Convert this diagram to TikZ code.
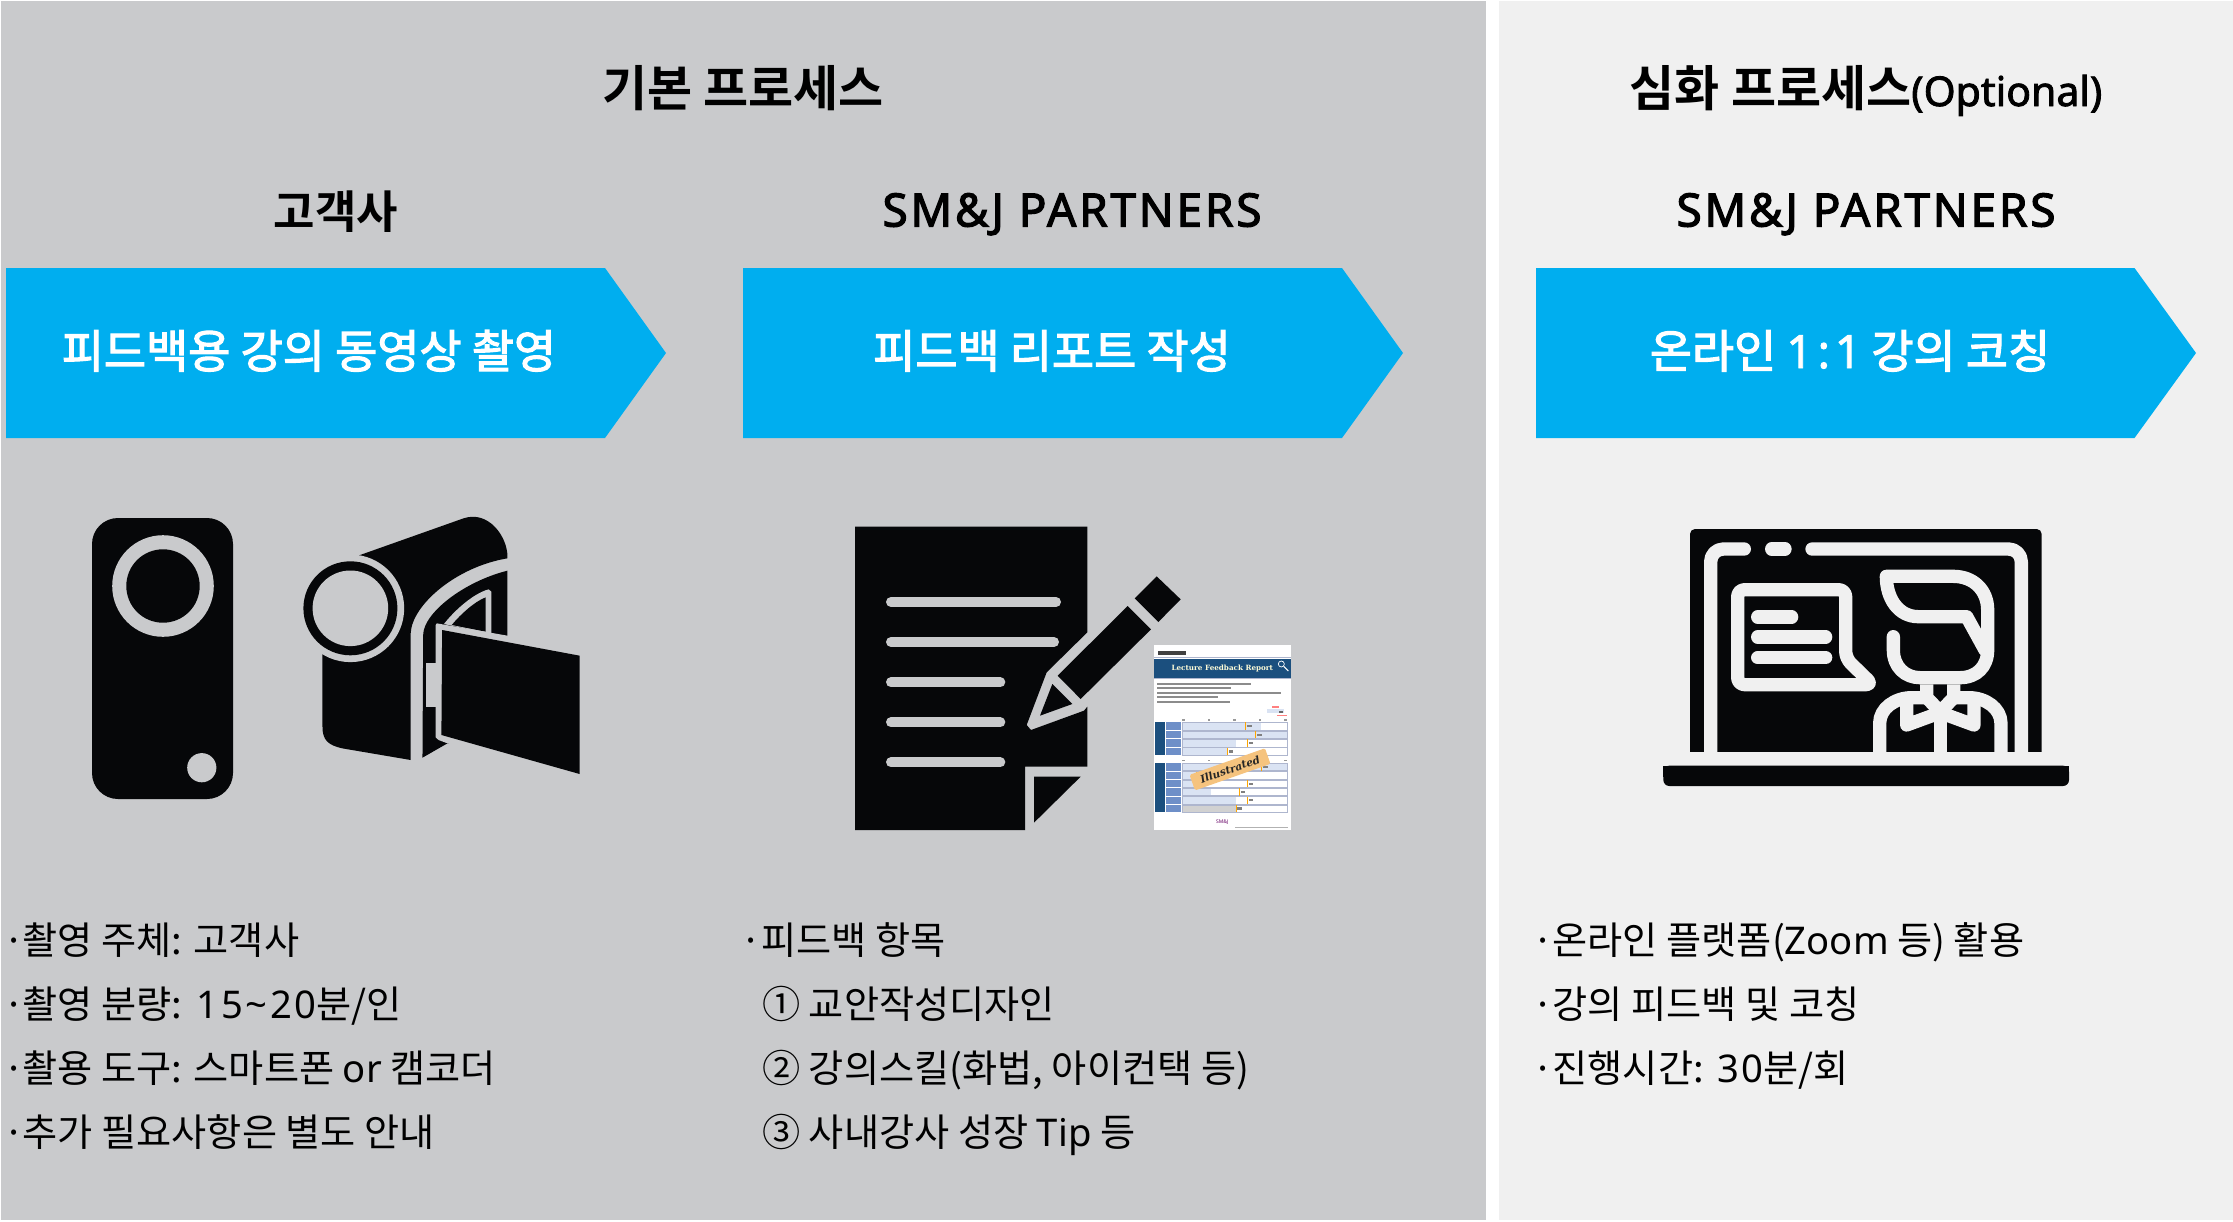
\documentclass[tikz,border=0pt]{standalone}
\usepackage{fontspec}
\setmainfont{Noto Sans CJK KR}
\newfontfamily\krmed[FakeBold=2.5]{Noto Sans CJK KR}
\newfontfamily\krbold{Noto Sans CJK KR Bold}
\newfontfamily\latf{Noto Sans}
\newfontfamily\latdg[LetterSpace=7]{Noto Sans}
\newfontfamily\latsb[FakeBold=2.5,LetterSpace=6]{Noto Sans}
\newfontfamily\latmd[FakeBold=2]{Noto Sans}
\newfontfamily\thumbserif{DejaVu Serif}
\newcommand{\fsz}[1]{\fontsize{#1}{#1}\selectfont}
\definecolor{panelA}{HTML}{C9CACC}
\definecolor{panelB}{HTML}{F0F0F0}
\definecolor{chevblue}{HTML}{00AEEF}
\definecolor{inkk}{HTML}{060709}
\definecolor{thumbnavy}{HTML}{1B4F7E}
\definecolor{thumbmid}{HTML}{6E8FC8}
\definecolor{thumblight}{HTML}{DAE3F3}
\definecolor{thumbedge}{HTML}{AEB6CE}
\definecolor{stampfill}{HTML}{F5C37E}
\tikzset{
  chev/.style={fill=chevblue,draw=none},
  ink/.style={fill=inkk,draw=none},
  headtxt/.style={anchor=base,inner sep=0pt,text=black,font=\krbold\fsz{49}},
  subtxt/.style={anchor=base,inner sep=0pt,text=black,font=\krbold\fsz{45}},
  subtxtlat/.style={anchor=base,inner sep=0pt,text=black,font=\latsb\fsz{46}},
  chevtxt/.style={anchor=base,inner sep=0pt,text=white,font=\krmed\fsz{45.8}},
  bodytxt/.style={anchor=base west,inner sep=0pt,text=black,font=\fsz{38.2}},
  wl/.style={draw=panelB,line width=13.3pt,line cap=round,line join=round,fill=none},
  gl/.style={draw=panelA,line width=10pt,line cap=round},
}
\begin{document}
\begin{tikzpicture}[x=1pt,y=-1pt]
\useasboundingbox (0,0) rectangle (2233,1221);
\fill[white] (0,0) rectangle (2233,1221);
\fill[panelA] (1,1) rectangle (1486,1220);
\fill[panelB] (1499,1) rectangle (2233,1220);
% chevrons
\fill[chev] (6,268) -- (605,268) -- (666,353) -- (605,438) -- (6,438) -- cycle;
\fill[chev] (743,268) -- (1342,268) -- (1403,353) -- (1342,438) -- (743,438) -- cycle;
\fill[chev] (1536,268) -- (2134.5,268) -- (2196,353) -- (2134.5,438) -- (1536,438) -- cycle;
% headings
\node[headtxt] (h1) at (743,106) {기본 프로세스};
\node[headtxt] (h2) at (1866,106) {심화 프로세스{\latmd\fsz{41}(Optional)}};
\node[subtxt] (s1) at (336,228) {고객사};
\node[subtxtlat] (s2) at (1072,226.5) {SM\&J PARTNERS};
\node[subtxtlat] (s3) at (1866,226.5) {SM\&J PARTNERS};
\node[chevtxt] (c1) at (309,368) {피드백용 강의 동영상 촬영};
\node[chevtxt] (c2) at (1052,368) {피드백 리포트 작성};
\node[chevtxt] (c3) at (1850,368) {온라인 {\latmd 1\kern5pt:\kern5pt1} 강의 코칭};
% body col 1
\node[bodytxt] (a1) at (3.5,954) {·\kern-2.5pt 촬영 주체: 고객사};
\node[bodytxt] (a2) at (3.5,1018) {·\kern-2.5pt 촬영 분량: \kern3pt{\latdg 15\char`\~20}분/인};
\node[bodytxt] (a3) at (3.5,1082) {·\kern-2.5pt 촬용 도구: 스마트폰 {\latf or} 캠코더};
\node[bodytxt] (a4) at (3.5,1146) {·\kern-2.5pt 추가 필요사항은 별도 안내};
% body col 2
\node[bodytxt] (b1) at (740,954) {·피드백 항목};
\node[bodytxt] (b2) at (762,1018) {① 교안작성디자인};
\node[bodytxt] (b3) at (762,1082) {② 강의스킬(화법, 아이컨택 등)};
\node[bodytxt] (b4) at (762,1146) {③ 사내강사 성장 {\latf Tip} 등};
% body col 3
\node[bodytxt] (d1) at (1532.5,954) {·\kern-1.5pt 온라인 플랫폼({\latf Zoom} 등) 활용};
\node[bodytxt] (d2) at (1532.5,1018) {·\kern-1.5pt 강의 피드백 및 코칭};
\node[bodytxt] (d3) at (1532.5,1082) {·\kern-1.5pt 진행시간: \kern2pt{\latdg 30}분/회};
% phone icon
\fill[ink,rounded corners=26pt] (92,518) rectangle (233,799);
\fill[panelA] (163,586) circle (50.8);
\fill[ink] (163,586) circle (36.7);
\fill[panelA] (201.8,767.7) circle (14.6);
% camcorder icon
\begin{scope}[shift={(60,490)},xscale=1/2.8,yscale=1/3]
\fill[ink] (835,197) -- (1130,85) .. controls (1200,60) and (1253,140) .. (1253,200) -- (1253,205) .. controls (1110,230) and (985,345) .. (982,430) -- (982,810) -- (790,775) .. controls (750,765) and (735,750) .. (735,710) -- (735,493) -- (813,355) -- cycle;
\fill[ink] (1253,242) .. controls (1130,275) and (1017,370) .. (1017,435) -- (1015,803) -- (1085,760) -- (1253,760) -- cycle;
\fill[panelA] (1075,402) .. controls (1110,355) and (1160,310) .. (1200,298) -- (1208,305) -- (1208,432) -- cycle;
\fill[ink] (1097,405) .. controls (1120,375) and (1160,335) .. (1192,322) -- (1192,425) -- cycle;
\fill[panelA] (1052,405) -- (1055,400) -- (1253,437) -- (1460,480) -- (1460,860) -- (1085,760) -- (1060,750) -- (1052,742) -- cycle;
\fill[panelA] (1025,518) rectangle (1053,652);
\fill[ink] (1070,420) -- (1455,497) -- (1455,852) -- (1068,735) -- cycle;
\end{scope}
\fill[panelA] (350.4,608.3) circle (53.8);
\fill[ink] (350.4,608.3) circle (47);
\fill[panelA] (350.4,608.3) circle (37.8);
% document icon
\begin{scope}[shift={(830,500)},scale=1/3]
\fill[ink] (75,80) -- (772,80) -- (772,397) -- (650,517) -- (590,675) -- (603,690) -- (762,632) -- (772,620) -- (772,800) -- (585,800) -- (585,990) -- (75,990) -- cycle;
\draw[gl] (183,306) -- (678,306);
\draw[gl] (183,426) -- (672,426);
\draw[gl] (183,547) -- (511,547);
\draw[gl] (183,667) -- (511,667);
\draw[gl] (183,787) -- (511,787);
\fill[ink] (612,830) -- (752,830) -- (612,968) -- cycle;
\fill[ink] (893,318) -- (963,388) -- (752,597) -- (683,527) -- cycle;
\fill[ink] (980,229) -- (1052,298) -- (985,366) -- (914,295) -- cycle;
\fill[ink] (667,552) -- (727,612) -- (630,647) -- cycle;
% report thumbnail
\fill[white] (972,436) rectangle (1382,990);
\fill[black!75] (983,454) rectangle (1068,464);
\fill[thumbedge] (972,471) rectangle (1382,474);
\fill[thumbnavy] (972,477) rectangle (1382,535);
\fill[thumbedge] (972,535) rectangle (1382,538);
\node[inner sep=0pt,text=yellow!15,font=\thumbserif\bfseries\fsz{7.2}] (rt) at (1177,506) {Lecture Feedback Report};
\draw[white,line width=0.7pt] (1354,492) circle (9);
\draw[white,line width=1pt] (1361,499) -- (1375,513);
\foreach \yy/\xe in {552/1262,565/1203,578/1352,592/1165,605/1200}
  \fill[black!45] (982,\yy-3) rectangle (\xe,\yy+3);
\fill[red!50] (1327,619) rectangle (1346,623);
\fill[thumblight] (1312,628) rectangle (1362,640);
\fill[black!60] (1348,632) rectangle (1360,638);
\fill[red!50] (1342,645) rectangle (1372,649);
\foreach \xx in {1060,1137,1213,1290,1366} {
  \fill[black!40] (\xx-4,658) rectangle (\xx+4,662);
  \fill[black!40] (\xx-4,780) rectangle (\xx+4,784);
}
\fill[thumbnavy] (975,666) rectangle (1004,765);
\fill[thumbnavy] (975,790) rectangle (1004,937);
\foreach \ya/\yb/\xf/\xm in {667/690/1293/1247,693/715/1373/1277,718/741/1218/1252,743/766/1192/1192,790/812/1373/1295,815/838/1100/1100,840/862/1100/1252,865/887/1143/1228,890/912/1218/1252} {
  \fill[thumbmid] (1008,\ya) rectangle (1054,\yb);
  \fill[thumblight] (1058,\ya) rectangle (\xf,\yb);
  \draw[thumbedge,line width=0.7pt] (1058,\ya) rectangle (1373,\yb);
  \draw[orange!70!yellow,line width=0.5pt] (\xm,\ya) -- (\xm,\yb);
  \fill[black!50] (\xm+4,\ya+8) rectangle (\xm+18,\yb-8);
}
\fill[thumbmid] (1008,915) rectangle (1054,937);
\fill[black!18] (1058,915) rectangle (1218,937);
\draw[thumbedge,line width=0.7pt] (1058,915) rectangle (1373,937);
\draw[orange!70!yellow,line width=0.5pt] (1218,915) -- (1218,937);
\fill[black!50] (1222,921) rectangle (1236,929);
\node[fill=stampfill,rounded corners=1.5pt,minimum width=80pt,minimum height=16.5pt,inner sep=0pt,rotate=19.4,text=black!85,font=\thumbserif\bfseries\itshape\fsz{10.5}] (stamp) at (1200,808) {Illustrated};
\node[inner sep=0pt,text=violet!80!black,font=\latf\bfseries\fsz{5}] (logo) at (1177,967) {SM\&J};
\fill[black!30] (1215,980) rectangle (1375,983);
\end{scope}
% laptop icon
\begin{scope}[shift={(1650,510)},scale=1/3]
\fill[ink,rounded corners=5pt] (120,57) -- (1175,57) -- (1175,900) -- (120,900) -- cycle;
\fill[panelB] (100,727) rectangle (1200,910);
\fill[ink,rounded corners=6pt] (40,767) -- (40,828) -- (1257,828) -- (1257,767) -- cycle;
\fill[ink] (40,767) rectangle (1257,800);
\begin{scope}
\clip (100,40) rectangle (1200,727);
\draw[wl] (182,760) -- (182,155) arc[start angle=180,end angle=270,radius=38] -- (283,117);
\draw[wl] (365,117) -- (405,117);
\draw[wl] (486,117) -- (1076,117) arc[start angle=270,end angle=360,radius=38] -- (1114,760);
\draw[wl,rounded corners=7pt] (587,445) -- (587,239) -- (263,239) -- (263,524) -- (668,524) -- cycle;
\draw[wl] (323,321) -- (425,321);
\draw[wl] (323,381) -- (527,381);
\draw[wl] (323,443) -- (527,443);
\draw[wl,line cap=round] (730,380) -- (730,420) .. controls (730,470) and (765,503) .. (810,503) -- (930,503) .. controls (980,503) and (1013,470) .. (1013,420) -- (1013,300) .. controls (1013,240) and (970,199) .. (910,199) -- (709,199) .. controls (709,265) and (745,320) .. (805,320) -- (950,320) -- (1005,420);
\draw[wl] (689,760) -- (689,640) .. controls (689,595) and (735,563) .. (785,563) -- (830,563);
\draw[wl] (1053,760) -- (1053,640) .. controls (1053,595) and (1007,563) .. (957,563) -- (911,563);
\draw[wl,line cap=butt,line join=miter] (830,523) -- (830,563) -- (871,605) -- (911,563) -- (911,523);
\draw[wl,line cap=butt] (871,605) -- (871,760);
\draw[wl] (770,570) -- (770,645) -- (871,608) -- (972,645) -- (972,570);
\end{scope}
\end{scope}
\end{tikzpicture}
\end{document}
